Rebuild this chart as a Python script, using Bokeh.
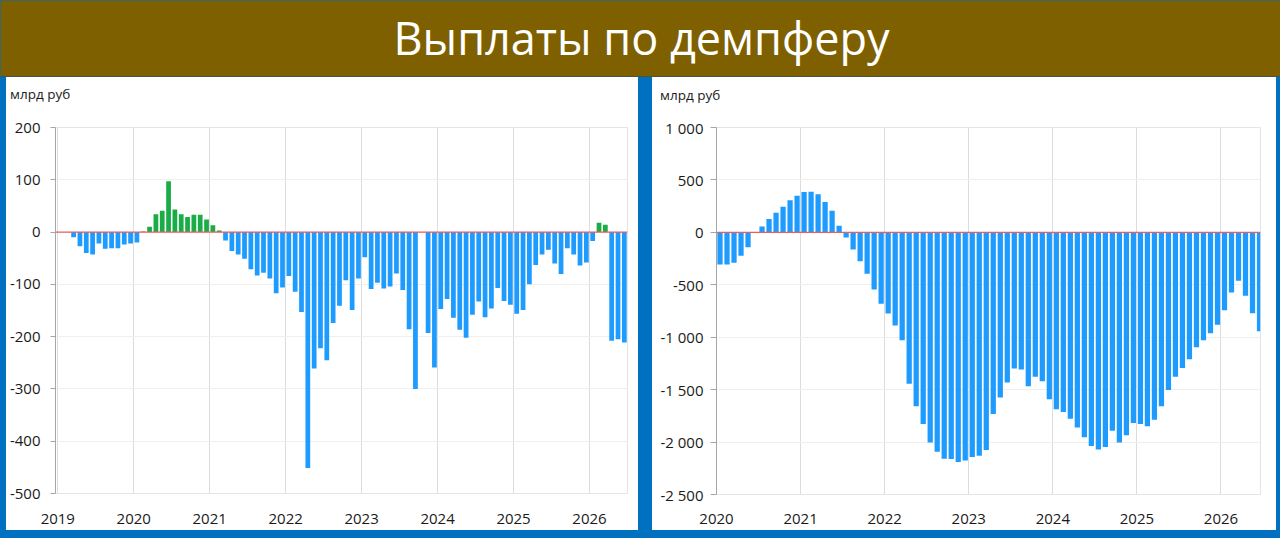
import pandas as pd
from bokeh.plotting import figure
from bokeh.layouts import column, row
from bokeh.models import FixedTicker, Span, Range1d, Label, Spacer, Div
from bokeh.embed import file_html
from bokeh.resources import INLINE

TITLE = "Выплаты по демпферу"
UNIT = "млрд руб"

# Left chart: monthly damper payments, bn RUB, Mar 2019 .. Jun 2026
left_start = "2019-03"
left_values = [
    -10, -27, -40, -43, -22, -32, -31, -31, -24, -22,                      # 2019 Mar-Dec
    -20, 1, 10, 34, 41, 97, 43, 34, 29, 33, 33, 24,                        # 2020
    13, 3, -16, -36, -43, -51, -71, -83, -78, -89, -117, -106,             # 2021
    -84, -114, -153, -451, -261, -222, -245, -174, -141, -92, -149, -89,   # 2022
    -48, -109, -97, -108, -104, -79, -111, -186, -300, 0, -193, -259,      # 2023
    -147, -128, -164, -187, -202, -158, -133, -163, -146, -107, -132, -139,  # 2024
    -156, -149, -100, -63, -43, -34, -60, -80, -31, -43, -64, -58,         # 2025
    -17, 18, 14, -208, -205, -211,                                         # 2026 Jan-Jun
]
left_year_ticks = [2019, 2020, 2021, 2022, 2023, 2024, 2025, 2026]
left_year_labels = ["2019", "2020", "2021", "2022", "2023", "2024", "2025", "2026"]
left_y_ticks = [200, 100, 0, -100, -200, -300, -400, -500]
left_y_labels = ["200", "100", "0", "-100", "-200", "-300", "-400", "-500"]

# Right chart: 12-month rolling sum, bn RUB, Jan 2020 .. Jun 2026
right_start = "2020-01"
right_values = [
    -306, -306, -290, -223, -143, 0, 57, 127, 188, 245, 306, 350,                  # 2020
    385, 388, 363, 290, 207, 62, -50, -164, -275, -395, -545, -680,                # 2021
    -774, -889, -1029, -1443, -1659, -1828, -2003, -2092, -2159, -2162, -2191, -2175,  # 2022
    -2143, -2131, -2076, -1732, -1576, -1433, -1299, -1309, -1468, -1376, -1420, -1592,  # 2023
    -1688, -1713, -1777, -1860, -1955, -2038, -2070, -2048, -1892, -2003, -1936, -1818,  # 2024
    -1828, -1850, -1787, -1659, -1503, -1376, -1293, -1210, -1096, -1029, -962, -882,    # 2025
    -742, -573, -462, -605, -771, -943,                                            # 2026 Jan-Jun
]
right_year_ticks = [2020, 2021, 2022, 2023, 2024, 2025, 2026]
right_year_labels = ["2020", "2021", "2022", "2023", "2024", "2025", "2026"]
right_y_ticks = [1000, 500, 0, -500, -1000, -1500, -2000, -2500]
right_y_labels = ["1 000", "500", "0", "-500", "-1 000", "-1 500", "-2 000", "-2 500"]

BLUE = "#1E9BFF"
GREEN = "#1AAD47"
FRAME_BLUE = "#0070C0"
BANNER = "#7F6000"
FONT = "Open Sans"
HEADER_H = 40


def month_x(start, n):
    per = pd.period_range(start, periods=n, freq="M")
    return [p.year + (p.month - 0.5) / 12.0 for p in per]


def make_header(width, pad_left, pad_top):
    html = ('<div style="padding:%dpx 0 0 %dpx; font-family:\'Open Sans\'; font-size:13.5px; '
            'line-height:18px; color:#1a1a1a; white-space:nowrap;">%s</div>'
            % (pad_top, pad_left, UNIT))
    return Div(text=html, width=width, height=HEADER_H,
               styles={"background-color": "white", "margin": "0", "overflow": "hidden",
                       "border": "none"})


def make_chart(width, start, vals, colors, xr, yr, xt, xl, yt, yl,
               b_left, b_right, b_top, b_bottom, y_standoff, tick_out, x_standoff):
    p = figure(width=width, height=453 - HEADER_H, x_range=Range1d(*xr), y_range=Range1d(*yr),
               output_backend="svg", toolbar_location=None, title=None,
               min_border_left=b_left, min_border_right=b_right,
               min_border_top=b_top, min_border_bottom=b_bottom,
               background_fill_color="white", border_fill_color="white",
               outline_line_color="#e4e4e4")
    xs = month_x(start, len(vals))
    p.vbar(x=xs, top=vals, bottom=0, width=0.75 / 12, fill_color=colors, line_color=None)
    p.add_layout(Span(location=0, dimension="width", line_color="#EE5C5C", line_width=1.2))

    p.xaxis.ticker = FixedTicker(ticks=xt)
    p.xaxis.major_label_overrides = {t: l for t, l in zip(xt, xl)}
    p.yaxis.ticker = FixedTicker(ticks=yt)
    p.yaxis.major_label_overrides = {t: l for t, l in zip(yt, yl)}
    for ax in (p.xaxis, p.yaxis):
        ax.major_label_text_font = FONT
        ax.major_label_text_font_size = "15px"
        ax.major_label_text_color = "#1a1a1a"
        ax.minor_tick_line_color = None
    p.xaxis.major_tick_line_color = None
    p.xaxis.axis_line_color = "#e4e4e4"
    p.xaxis.major_label_standoff = x_standoff
    p.yaxis.axis_line_color = "#a6a6a6"
    p.yaxis.major_tick_line_color = "#a6a6a6"
    p.yaxis.major_tick_out = tick_out
    p.yaxis.major_tick_in = 0
    p.yaxis.major_label_standoff = y_standoff
    p.xgrid.grid_line_color = "#dcdcdc"
    p.ygrid.grid_line_color = "#efefef"
    return p


left_colors = [GREEN if v > 0 else BLUE for v in left_values]
left = make_chart(632, left_start, left_values, left_colors,
                  (2018.97, 2026.5), (-500, 200),
                  left_year_ticks, left_year_labels, left_y_ticks, left_y_labels,
                  49, 11, 10, 37, 10, 5, 14)
left_panel = column(make_header(632, 4, 8), left, spacing=0,
                    styles={"background-color": "white"})

right_colors = [BLUE for v in right_values]
right = make_chart(624, right_start, right_values, right_colors,
                   (2020.0, 2026.47), (-2500, 1000),
                   right_year_ticks, right_year_labels, right_y_ticks, right_y_labels,
                   64, 16, 10, 36, 7, 6, 13)
right_panel = column(make_header(624, 8, 9), right, spacing=0,
                     styles={"background-color": "white"})

banner = figure(width=1280, height=77, x_range=Range1d(0, 1280), y_range=Range1d(0, 77),
                output_backend="svg", toolbar_location=None, title=None,
                min_border_left=0, min_border_right=0, min_border_top=0, min_border_bottom=1,
                background_fill_color=BANNER, border_fill_color="#2a2a2a",
                outline_line_color=None)
banner.axis.visible = False
banner.grid.visible = False
banner.add_layout(Label(x=641, y=40, text=TITLE, text_align="center",
                        text_baseline="alphabetic", text_color="white",
                        text_font=FONT, text_font_size="45px"))

charts = row(Spacer(width=6, height=453), left_panel, Spacer(width=14, height=453), right_panel,
             Spacer(width=4, height=453), spacing=0)
page = column(banner, charts, Spacer(width=1280, height=8), spacing=0,
              styles={"background-color": FRAME_BLUE})

open("out.html", "w").write(file_html(page, INLINE))
